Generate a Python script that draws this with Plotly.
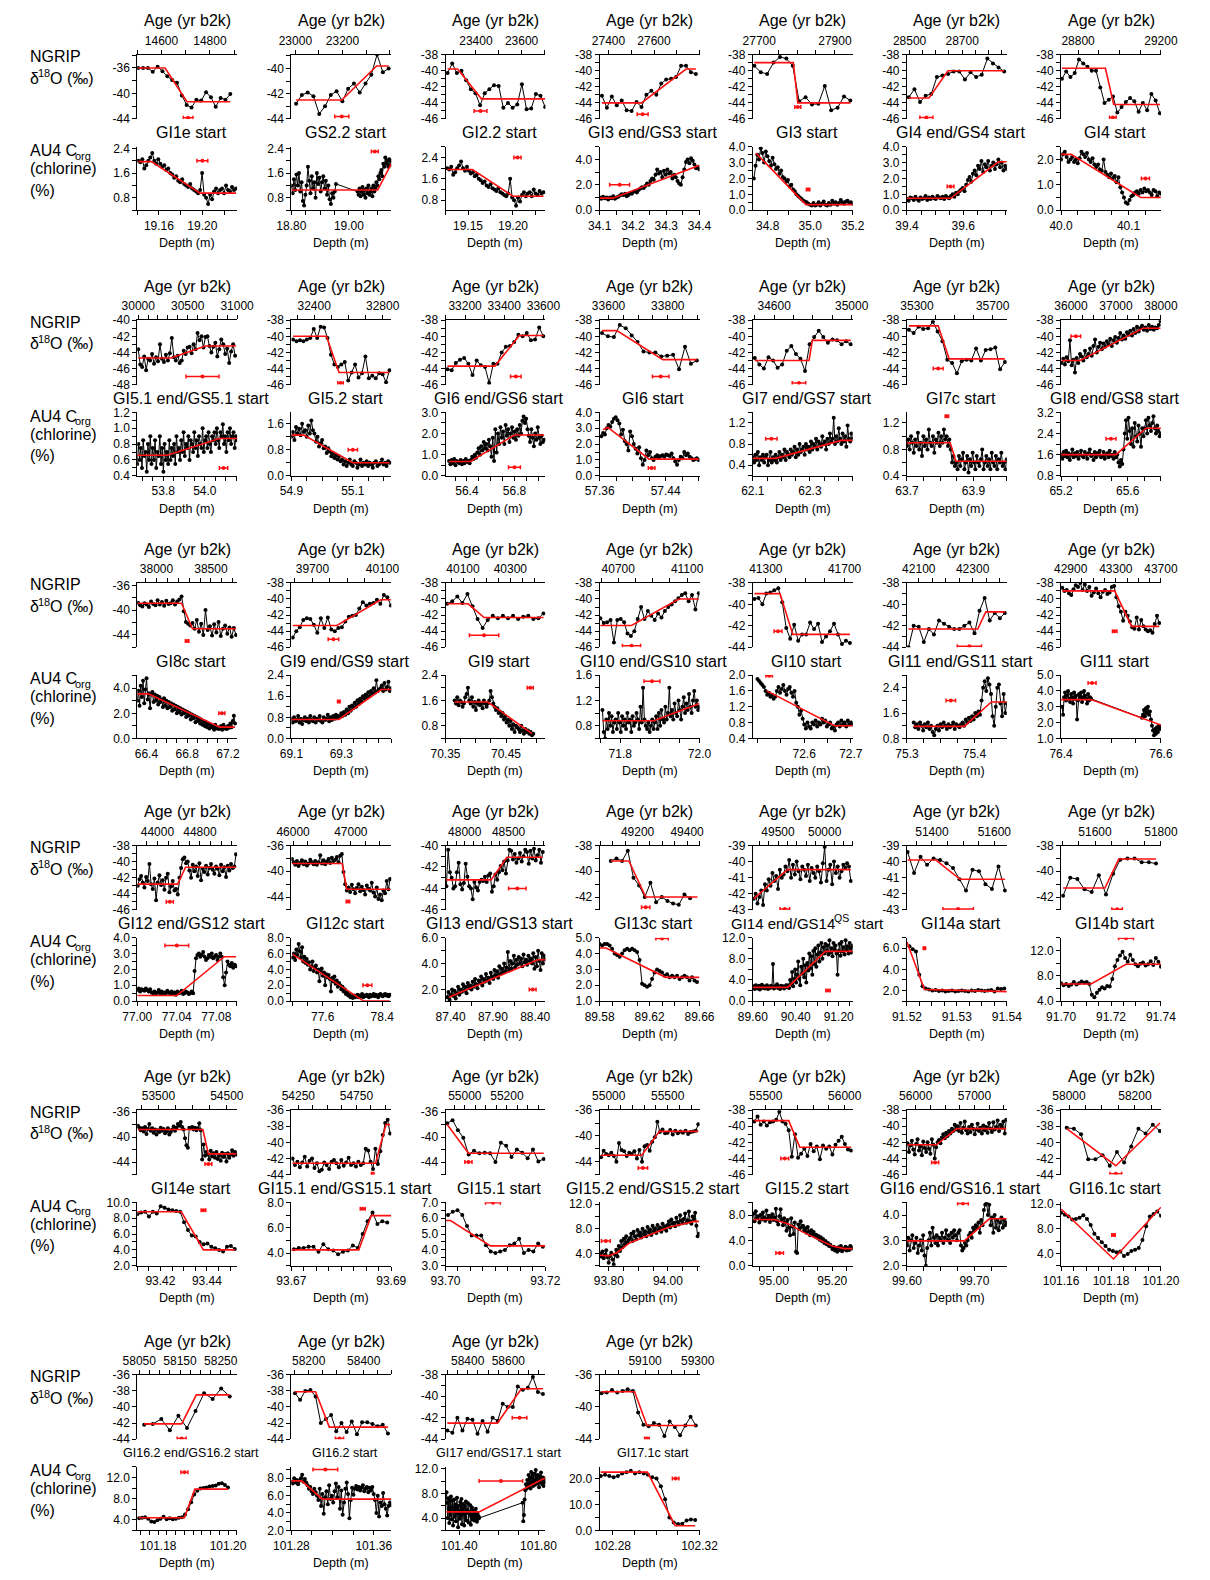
import numpy as np
import plotly.graph_objects as go

# ---------------------------------------------------------------------------
# NGRIP d18O: first/last sample age of the evenly spaced record + values.
# AU4 Corg: depth span of each continuous scan segment + values per segment.
# *_fit: ramp fit break points [[x...], [y...]].
# *_err: transition uncertainty bar [centre, half width, plotted level].
# ---------------------------------------------------------------------------

# GI1e start
p01_age = [14504, 14884]
p01_d18o = [-36.0, -36.0, -36.0, -36.6, -35.8, -36.5, -37.3, -37.9, -38.3, -40.3, -41.8, -42.2, -41.0, -41.1, -39.8,
            -40.6, -42.1, -40.7, -41.0, -40.1]
p01_d18o_fit = [[14504, 14615, 14705, 14884], [-36.0, -36.0, -41.3, -41.3]]
p01_d18o_err = [14710, 20, -43.8]
p01_depth = [[19.141, 19.231]]
p01_corg = [[2.0, 1.95, 2.05, 1.75, 1.85, 2.0, 2.1, 2.25, 2.0, 1.9, 2.05, 1.9, 1.8, 1.85, 1.7, 1.75, 1.6, 1.55, 1.45,
             1.5, 1.35, 1.3, 1.4, 1.25, 1.2, 1.15, 1.25, 1.1, 1.05, 1.0, 0.95, 1.05, 1.6, 0.9, 0.8, 0.6, 0.9, 0.75, 1.0,
             1.1, 0.95, 1.05, 1.1, 0.95, 1.2, 1.05, 1.0, 1.15, 1.05, 1.1]]
p01_corg_fit = [[19.141, 19.153, 19.198, 19.231], [1.97, 1.97, 0.95, 0.95]]
p01_corg_err = [19.20, 0.005, 2.0]

# GS2.2 start
p02_age = [23003, 23396]
p02_d18o = [-42.8, -42.1, -41.9, -42.2, -43.6, -43.0, -42.1, -41.8, -42.6, -41.6, -41.2, -41.9, -41.2, -40.5, -38.9,
            -40.3, -40.0]
p02_d18o_fit = [[23003, 23197, 23345, 23396], [-42.5, -42.5, -39.8, -39.8]]
p02_d18o_err = [23197, 30, -43.8]
p02_depth = [[18.80, 18.955], [19.03, 19.147]]
p02_corg = [[1.2, 0.95, 1.4, 1.05, 1.55, 1.2, 1.6, 1.0, 1.3, 0.7, 0.55, 0.9, 1.2, 1.8, 1.35, 0.95, 1.5, 1.1, 1.3, 0.8,
             1.6, 1.25, 1.45, 1.0, 1.3, 1.5, 1.1, 1.35, 0.9, 1.2, 0.75, 0.6, 0.95, 0.8, 1.0, 1.25],
            [1.0, 0.9, 1.1, 0.85, 1.0, 1.15, 0.9, 1.05, 0.8, 1.1, 0.95, 1.2, 0.9, 1.0, 1.1, 0.85, 1.2, 1.0, 1.1, 1.3,
             1.2, 1.5, 1.4, 1.6, 1.7, 1.5, 1.9, 1.8, 2.1, 1.9, 2.0, 1.8, 2.05, 1.85, 2.0]]
p02_corg_fit = [[18.80, 19.10, 19.147], [1.05, 1.05, 1.9]]
p02_corg_err = [19.09, 0.012, 2.3]

# GI2.2 start
p03_age = [23276, 23703]
p03_d18o = [-40.3, -39.1, -40.3, -40.0, -41.2, -42.3, -42.8, -44.3, -42.8, -42.3, -41.8, -41.9, -44.6, -44.0, -44.6,
            -44.2, -41.7, -44.8, -44.7, -42.9, -43.1, -44.5]
p03_d18o_fit = [[23276, 23320, 23424, 23703], [-39.8, -39.8, -43.5, -43.5]]
p03_d18o_err = [23420, 28, -45.0]
p03_depth = [[19.127, 19.234]]
p03_corg = [[2.0, 1.95, 2.05, 1.75, 1.85, 2.0, 2.1, 2.25, 2.0, 1.9, 2.05, 1.9, 1.8, 1.85, 1.7, 1.75, 1.6, 1.55, 1.45,
             1.5, 1.35, 1.3, 1.4, 1.25, 1.2, 1.15, 1.25, 1.1, 1.05, 1.0, 0.95, 1.05, 1.6, 0.9, 0.8, 0.6, 0.9, 0.75, 1.0,
             1.1, 0.95, 1.05, 1.1, 0.95, 1.2, 1.05, 1.0, 1.15, 1.05, 1.1]]
p03_corg_fit = [[19.127, 19.155, 19.20, 19.234], [1.95, 1.95, 0.95, 0.95]]
p03_corg_err = [19.205, 0.004, 2.4]

# GI3 end/GS3 start
p04_age = [27371, 27784]
p04_d18o = [-43.1, -44.6, -43.2, -44.3, -43.7, -44.9, -45.0, -43.9, -44.5, -43.0, -42.5, -43.0, -41.6, -41.1, -41.0,
            -40.8, -39.4, -39.4, -40.2, -40.4]
p04_d18o_fit = [[27371, 27545, 27741, 27784], [-44.0, -44.0, -39.8, -39.8]]
p04_d18o_err = [27550, 24, -45.4]
p04_depth = [[34.1, 34.4]]
p04_corg = [[1.0, 0.9, 1.05, 0.95, 1.0, 0.85, 1.0, 0.95, 1.1, 0.9, 1.0, 1.05, 1.15, 1.25, 1.2, 1.3, 1.1, 1.2, 1.35, 1.3,
             1.45, 1.5, 1.4, 1.6, 1.7, 1.8, 1.75, 1.9, 2.1, 2.0, 2.3, 2.5, 2.4, 2.8, 3.2, 2.9, 3.0, 2.6, 3.1, 2.8, 3.2,
             2.9, 3.0, 2.5, 2.8, 2.6, 2.3, 2.1, 2.0, 2.6, 3.2, 3.8, 4.0, 3.7, 4.1, 3.9, 3.6, 3.3, 3.4, 3.2]]
p04_corg_fit = [[34.1, 34.14, 34.4], [0.95, 0.95, 3.55]]
p04_corg_err = [34.16, 0.03, 2.0]

# GI3 start
p05_age = [27687, 27941]
p05_d18o = [-39.4, -40.2, -40.4, -39.0, -38.3, -38.5, -39.4, -43.8, -43.3, -44.2, -44.1, -41.9, -44.9, -44.6, -43.2,
            -43.7]
p05_d18o_fit = [[27687, 27790, 27802, 27941], [-39.0, -39.0, -44.0, -44.0]]
p05_d18o_err = [27802, 8, -44.5]
p05_depth = [[34.735, 35.2]]
p05_corg = [[2.0, 2.8, 3.5, 3.2, 3.9, 3.6, 3.0, 3.7, 3.4, 3.1, 2.8, 3.3, 2.9, 2.6, 2.7, 2.3, 2.5, 2.1, 2.0, 1.8, 1.9,
             1.5, 1.6, 1.3, 1.2, 1.0, 0.9, 0.8, 0.7, 0.6, 0.55, 0.5, 0.4, 0.35, 0.3, 0.45, 0.3, 0.35, 0.5, 0.3, 0.4,
             0.55, 0.35, 0.3, 0.45, 0.35, 0.6, 0.4, 0.5, 0.35, 0.45, 0.65, 0.5, 0.4, 0.55, 0.6, 0.45, 0.5, 0.4]]
p05_corg_fit = [[34.745, 34.98, 35.2], [3.6, 0.35, 0.35]]
p05_corg_err = [34.99, 0.008, 1.3]

# GI4 end/GS4 start
p06_age = [28497, 28860]
p06_d18o = [-43.3, -42.3, -43.9, -43.1, -42.9, -40.8, -40.6, -40.4, -40.1, -40.1, -41.1, -40.2, -40.8, -40.5, -38.5,
            -39.1, -39.6, -40.1]
p06_d18o_fit = [[28497, 28574, 28646, 28860], [-43.4, -43.4, -40.0, -40.0]]
p06_d18o_err = [28564, 25, -45.8]
p06_depth = [[39.4, 39.755]]
p06_corg = [[0.7, 0.6, 0.8, 0.75, 0.65, 0.85, 0.7, 0.6, 0.8, 0.7, 0.75, 0.9, 0.65, 0.8, 0.7, 0.85, 0.75, 0.7, 0.9, 0.8,
             0.75, 0.85, 0.7, 0.9, 0.8, 0.75, 0.9, 1.0, 0.85, 1.1, 1.0, 1.2, 1.3, 1.4, 1.2, 1.6, 1.9, 2.1, 1.8, 2.3, 2.5,
             2.2, 2.8, 2.6, 3.1, 2.4, 2.9, 2.7, 3.1, 2.5, 2.8, 3.0, 2.6, 2.9, 3.2, 2.7, 3.0, 2.5, 2.8, 2.6]]
p06_corg_fit = [[39.4, 39.555, 39.725, 39.755], [0.75, 0.75, 3.05, 3.05]]
p06_corg_err = [39.555, 0.012, 1.5]

# GI4 start
p07_age = [28722, 29195]
p07_d18o = [-41.0, -40.1, -40.8, -40.3, -38.6, -39.1, -39.5, -40.0, -40.0, -42.1, -44.0, -43.6, -43.2, -45.2, -44.5,
            -43.9, -43.4, -43.8, -45.1, -44.0, -44.9, -42.9, -43.7, -45.3]
p07_d18o_fit = [[28722, 28932, 28972, 29195], [-39.7, -39.7, -44.2, -44.2]]
p07_d18o_err = [28968, 16, -45.8]
p07_depth = [[40.0, 40.148]]
p07_corg = [[2.0, 2.2, 2.3, 2.1, 1.9, 2.0, 2.1, 1.9, 2.0, 1.85, 2.05, 2.3, 2.2, 2.1, 2.25, 2.0, 1.9, 2.05, 1.8, 1.7,
             1.8, 1.6, 1.55, 2.0, 1.5, 1.4, 1.3, 1.45, 1.25, 1.35, 1.1, 1.3, 0.9, 0.7, 0.5, 0.3, 0.25, 0.4, 0.55, 0.6,
             0.7, 0.75, 0.65, 0.8, 0.7, 0.85, 0.75, 0.8, 0.7, 0.6, 0.8, 0.75, 0.55, 0.7, 0.65]]
p07_corg_fit = [[40.0, 40.015, 40.118, 40.148], [2.2, 2.2, 0.5, 0.5]]
p07_corg_err = [40.125, 0.006, 1.25]

# GI5.1 end/GS5.1 start
p08_age = [30000, 30980]
p08_d18o = [-43.6, -45.5, -45.8, -44.5, -46.2, -44.8, -45.0, -44.2, -45.4, -44.6, -45.1, -43.0, -44.8, -45.2, -44.3,
            -45.0, -44.1, -42.2, -44.6, -45.0, -44.4, -45.3, -45.0, -43.8, -44.2, -43.4, -43.3, -44.1, -43.0, -43.6,
            -41.6, -42.5, -42.0, -43.4, -42.1, -42.0, -43.2, -44.0, -43.3, -42.8, -44.5, -43.6, -42.4, -43.0, -44.2,
            -43.5, -45.3, -43.9, -43.0, -44.4]
p08_d18o_fit = [[30000, 30330, 30680, 30990], [-44.7, -44.7, -43.2, -43.2]]
p08_d18o_err = [30650, 167, -47.0]
p08_depth = [[53.675, 54.155]]
p08_corg = [[0.55, 0.8, 0.6, 0.75, 0.5, 0.85, 0.65, 0.7, 0.45, 0.8, 0.6, 0.9, 0.55, 0.75, 0.6, 0.85, 0.5, 0.7, 0.65,
             0.9, 0.55, 0.75, 0.45, 0.8, 0.6, 0.7, 0.55, 0.85, 0.6, 0.75, 0.65, 0.8, 0.55, 0.9, 0.7, 0.75, 0.6, 0.85,
             0.7, 0.95, 0.65, 0.8, 0.75, 0.9, 0.6, 0.85, 0.8, 0.7, 0.95, 0.75, 0.85, 0.65, 0.9, 0.8, 0.75, 1.0, 0.7,
             0.85, 0.9, 0.75, 0.95, 0.8, 0.7, 0.9, 0.85, 0.95, 0.8, 1.0, 0.85, 0.75, 0.95, 0.9, 1.05, 0.8, 0.9, 0.7,
             0.95, 0.85, 1.0, 0.8, 0.9, 0.95, 0.75, 0.9, 0.85]]
p08_corg_fit = [[53.675, 53.82, 54.07, 54.155], [0.66, 0.66, 0.87, 0.87]]
p08_corg_err = [54.09, 0.02, 0.5]

# GI5.2 start
p09_age = [32277, 32840]
p09_d18o = [-40.4, -40.6, -40.5, -40.6, -40.4, -40.2, -39.1, -40.2, -38.8, -38.9, -40.2, -42.3, -43.5, -43.8, -43.5,
            -43.2, -45.5, -44.5, -43.5, -45.1, -44.6, -42.5, -45.2, -44.9, -45.2, -44.6, -44.7, -45.7, -44.2]
p09_d18o_fit = [[32277, 32472, 32545, 32840], [-40.0, -40.0, -44.5, -44.5]]
p09_d18o_err = [32554, 16, -45.8]
p09_depth = [[54.9, 55.22]]
p09_corg = [[1.2, 1.35, 1.1, 1.5, 1.3, 1.45, 1.25, 1.6, 1.35, 1.4, 1.2, 1.55, 1.3, 1.7, 1.4, 1.3, 1.05, 1.2, 0.9, 1.0,
             1.1, 0.85, 0.9, 0.7, 0.85, 0.75, 0.6, 0.7, 0.55, 0.65, 0.5, 0.6, 0.45, 0.5, 0.35, 0.45, 0.3, 0.4, 0.5,
             0.35, 0.3, 0.45, 0.4, 0.25, 0.35, 0.5, 0.3, 0.4, 0.35, 0.45, 0.3, 0.4, 0.35, 0.25, 0.4, 0.45, 0.3, 0.35,
             0.4, 0.5, 0.35, 0.4, 0.3, 0.45, 0.4]]
p09_corg_fit = [[54.9, 54.94, 55.1, 55.22], [1.25, 1.25, 0.4, 0.4]]
p09_corg_err = [55.10, 0.015, 0.8]

# GI6 end/GS6 start
p10_age = [33110, 33600]
p10_d18o = [-44.1, -44.2, -43.3, -42.9, -42.7, -43.4, -44.8, -43.0, -43.6, -43.8, -45.8, -43.4, -43.4, -42.0, -41.3,
            -41.2, -40.7, -39.8, -40.0, -39.6, -40.5, -40.4, -38.9, -40.0]
p10_d18o_fit = [[33110, 33352, 33477, 33600], [-43.7, -43.7, -39.9, -39.9]]
p10_d18o_err = [33459, 27, -45.0]
p10_depth = [[56.25, 57.05]]
p10_corg = [[0.7, 0.55, 0.75, 0.6, 0.8, 0.5, 0.7, 0.65, 0.6, 0.75, 0.55, 0.7, 0.6, 0.8, 0.65, 0.7, 0.6, 0.75, 0.9, 0.8,
             1.0, 0.85, 1.1, 1.3, 1.0, 1.4, 1.2, 1.6, 1.3, 1.5, 1.2, 1.7, 1.4, 0.9, 1.8, 0.7, 2.2, 1.1, 2.0, 1.5, 2.3,
             1.8, 2.1, 1.5, 2.4, 1.9, 2.2, 1.6, 2.0, 2.3, 1.8, 2.1, 1.7, 2.2, 1.9, 2.4, 2.0, 2.6, 2.8, 2.5, 2.7, 2.2,
             1.9, 1.6, 2.2, 1.8, 1.4, 2.0, 1.7, 2.3, 1.8, 1.5, 1.9, 1.6, 1.7]]
p10_corg_fit = [[56.25, 56.43, 56.8, 57.05], [0.68, 0.68, 1.93, 1.93]]
p10_corg_err = [56.8, 0.05, 0.4]

# GI6 start
p11_age = [33578, 33898]
p11_d18o = [-39.6, -40.0, -40.1, -38.6, -39.0, -39.9, -40.7, -41.9, -42.0, -42.0, -42.5, -42.4, -42.3, -44.1, -41.3,
            -43.4, -43.0]
p11_d18o_fit = [[33578, 33628, 33783, 33898], [-39.3, -39.3, -42.9, -42.9]]
p11_d18o_err = [33776, 28, -45.0]
p11_depth = [[57.362, 57.48]]
p11_corg = [[2.5, 2.7, 2.6, 3.0, 3.2, 3.1, 3.4, 3.6, 3.7, 3.5, 3.3, 2.6, 2.9, 2.2, 2.0, 1.6, 2.8, 2.5, 2.0, 1.7, 1.4,
             1.8, 1.1, 0.7, 1.0, 1.6, 1.3, 1.5, 1.1, 1.0, 1.2, 1.3, 1.15, 1.25, 1.3, 1.2, 1.35, 1.3, 1.25, 1.4, 1.1,
             0.9, 0.7, 1.0, 1.2, 1.1, 1.5, 1.3, 1.4, 1.2, 1.1, 1.0, 1.05, 1.1, 1.0]]
p11_corg_fit = [[57.364, 57.37, 57.42, 57.48], [2.9, 3.05, 1.05, 1.05]]
p11_corg_err = [57.423, 0.004, 0.5]

# GI7 end/GS7 start
p12_age = [34500, 34995]
p12_d18o = [-42.7, -43.5, -44.0, -42.6, -43.0, -43.9, -43.5, -41.8, -41.2, -42.2, -42.8, -44.3, -41.0, -40.1, -39.3,
            -40.1, -40.8, -40.4, -40.5, -41.0, -40.6, -41.0]
p12_d18o_fit = [[34500, 34780, 34797, 34995], [-43.0, -43.0, -40.5, -40.5]]
p12_d18o_err = [34728, 35, -45.8]
p12_depth = [[62.1, 62.45]]
p12_corg = [[0.55, 0.45, 0.6, 0.5, 0.65, 0.4, 0.55, 0.5, 0.6, 0.45, 0.55, 0.6, 0.4, 0.5, 0.65, 0.45, 0.55, 0.5, 0.6,
             0.45, 0.55, 0.65, 0.5, 0.6, 0.55, 0.7, 0.5, 0.65, 0.6, 0.55, 0.7, 0.6, 0.65, 0.75, 0.55, 0.7, 0.6, 0.8,
             0.65, 0.7, 0.75, 0.6, 0.8, 0.7, 0.75, 0.65, 0.85, 0.7, 0.8, 0.75, 0.9, 0.7, 0.85, 0.8, 0.75, 0.95, 0.8,
             0.85, 0.7, 0.9, 0.8, 1.0, 0.85, 0.9, 1.3, 0.8, 0.95, 0.85, 1.1, 0.9, 0.8, 1.0, 0.85, 0.95, 0.75, 1.15,
             0.9, 0.85, 1.0, 0.9]]
p12_corg_fit = [[62.1, 62.18, 62.41, 62.45], [0.53, 0.53, 0.87, 0.87]]
p12_corg_err = [62.165, 0.02, 0.9]

# GI7c start
p13_age = [35257, 35765]
p13_d18o = [-39.2, -39.6, -38.8, -39.1, -39.0, -38.2, -39.4, -40.6, -42.9, -43.3, -44.6, -43.1, -42.9, -43.0, -41.5,
            -43.0, -41.7, -41.6, -41.4, -44.1, -43.2]
p13_d18o_fit = [[35257, 35412, 35470, 35765], [-38.7, -38.7, -42.8, -42.8]]
p13_d18o_err = [35412, 26, -44.0]
p13_depth = [[63.7, 64.0]]
p13_corg = [[0.85, 0.95, 0.8, 1.0, 0.9, 0.75, 0.95, 0.85, 1.05, 0.8, 0.9, 0.7, 1.0, 0.85, 0.95, 0.8, 1.1, 0.9, 0.85,
             1.0, 0.75, 0.95, 0.9, 1.05, 0.85, 1.0, 0.9, 1.1, 0.95, 1.0, 0.85, 0.95, 0.8, 0.6, 0.7, 0.55, 0.6, 0.5, 0.7,
             0.55, 0.65, 0.75, 0.5, 0.6, 0.7, 0.45, 0.65, 0.55, 0.75, 0.6, 0.5, 0.7, 0.6, 0.55, 0.65, 0.8, 0.5, 0.6,
             0.7, 0.55, 0.65, 0.5, 0.75, 0.6, 0.55, 0.7, 0.5, 0.65, 0.6, 0.75, 0.55, 0.6, 0.5, 0.65]]
p13_corg_fit = [[63.7, 63.83, 63.847, 64.0], [0.9, 0.9, 0.62, 0.62]]
p13_corg_err = [63.82, 0.005, 1.3]

# GI8 end/GS8 start
p14_age = [35790, 37990]
p14_d18o = [-43.3, -42.8, -43.5, -42.6, -43.1, -40.5, -43.6, -42.9, -44.5, -42.7, -43.3, -42.2, -42.5, -43.0, -41.8,
            -42.6, -42.2, -41.5, -42.4, -41.2, -40.4, -42.0, -41.3, -40.8, -41.6, -40.9, -41.3, -40.6, -41.0, -40.3,
            -41.2, -40.5, -40.1, -40.8, -40.2, -39.6, -40.4, -39.9, -40.3, -39.5, -39.8, -39.3, -39.9, -39.1, -39.6,
            -38.8, -39.4, -39.0, -38.7, -39.2, -38.9, -39.3, -38.6, -39.1, -38.8, -39.2, -38.9, -39.0, -38.6, -38.1]
p14_d18o_fit = [[35790, 36200, 37600, 37990], [-43.0, -43.0, -39.0, -39.0]]
p14_d18o_err = [36107, 107, -40.0]
p14_depth = [[65.2, 65.8]]
p14_corg = [[1.6, 1.45, 1.7, 1.55, 1.75, 1.5, 1.65, 1.4, 1.6, 1.8, 1.5, 1.65, 1.55, 1.7, 1.45, 1.6, 1.75, 1.55, 1.5,
             1.7, 1.6, 1.45, 1.65, 1.8, 1.55, 1.6, 1.4, 1.7, 1.5, 1.65, 1.6, 1.75, 1.5, 1.55, 1.7, 1.45, 1.6, 1.65, 1.5,
             1.75, 1.55, 1.6, 1.45, 1.7, 1.5, 1.6, 1.3, 1.15, 1.4, 1.25, 1.8, 2.4, 2.9, 2.2, 3.0, 2.5, 2.0, 2.6, 1.9,
             2.8, 2.3, 2.1, 2.7, 2.4, 1.9, 2.6, 2.3, 2.6, 2.9, 2.4, 3.0, 2.7, 2.5, 2.8, 3.05, 2.6, 2.4, 2.7, 2.5, 2.3,
             2.4]]
p14_corg_fit = [[65.2, 65.53, 65.71, 65.8], [1.6, 1.6, 2.6, 2.6]]
p14_corg_err = [65.5, 0.03, 2.2]

# GI8c start
p15_age = [37830, 38730]
p15_d18o = [-38.8, -39.2, -39.4, -38.9, -39.1, -39.5, -38.6, -39.0, -39.2, -38.4, -39.1, -38.7, -39.3, -38.5, -39.0,
            -38.9, -38.4, -39.1, -38.6, -38.3, -37.8, -40.2, -41.9, -42.2, -42.5, -42.1, -43.0, -41.6, -43.5, -42.2,
            -44.0, -40.0, -43.2, -42.6, -44.1, -42.3, -43.6, -41.9, -44.2, -43.0, -42.5, -43.8, -42.8, -44.3, -42.9,
            -44.0]
p15_d18o_fit = [[37830, 38230, 38330, 38730], [-38.9, -38.9, -43.0, -43.0]]
p15_d18o_err = [38281, 16, -45.0]
p15_depth = [[66.31, 67.27]]
p15_corg = [[3.0, 3.8, 2.6, 4.2, 3.3, 4.6, 2.8, 3.9, 4.8, 3.1, 3.6, 2.4, 3.5, 3.7, 2.9, 3.5, 3.0, 3.4, 2.7, 3.3, 2.9,
             3.1, 2.5, 3.2, 2.6, 3.0, 2.4, 2.9, 2.5, 2.8, 2.2, 2.7, 2.3, 2.6, 2.0, 2.5, 2.1, 2.4, 1.9, 2.3, 2.0, 2.2,
             1.7, 2.1, 1.8, 2.0, 1.5, 1.9, 1.6, 1.8, 1.3, 1.7, 1.4, 1.6, 1.2, 1.5, 1.1, 1.4, 1.0, 1.3, 0.9, 1.2, 0.8,
             1.1, 0.9, 1.0, 0.7, 1.1, 0.8, 0.9, 0.75, 0.8, 1.0, 0.7, 1.1, 0.8, 0.9, 0.75, 1.0, 0.85, 1.2, 0.9, 1.4,
             1.8, 1.2]]
p15_corg_fit = [[66.31, 66.42, 67.12, 67.27], [3.55, 3.55, 0.9, 0.9]]
p15_corg_err = [67.14, 0.03, 2.0]

# GI9 end/GS9 start
p16_age = [39588, 40148]
p16_d18o = [-44.8, -44.0, -43.5, -42.6, -42.4, -42.5, -43.2, -44.2, -42.4, -43.6, -42.3, -43.8, -44.0, -43.6, -43.5,
            -42.8, -42.2, -42.1, -42.0, -41.2, -40.4, -40.8, -40.6, -40.5, -40.1, -40.6, -39.5, -39.8, -40.8]
p16_d18o_fit = [[39588, 39840, 40090, 40148], [-43.3, -43.3, -40.1, -40.1]]
p16_d18o_err = [39820, 30, -45.0]
p16_depth = [[69.1, 69.5]]
p16_corg = [[0.75, 0.6, 0.8, 0.65, 0.7, 0.85, 0.6, 0.75, 0.55, 0.7, 0.8, 0.65, 0.75, 0.6, 0.85, 0.7, 0.65, 0.8, 0.6,
             0.75, 0.7, 0.85, 0.65, 0.6, 0.8, 0.7, 0.75, 0.9, 0.65, 0.8, 0.7, 0.85, 0.75, 0.9, 0.8, 0.85, 0.8, 0.95,
             0.85, 1.0, 0.9, 1.1, 0.95, 1.2, 1.05, 1.25, 1.15, 1.35, 1.2, 1.45, 1.3, 1.5, 1.4, 1.6, 1.5, 1.65, 1.55,
             1.75, 1.6, 1.8, 1.7, 1.9, 1.75, 2.2, 1.8, 1.85, 1.9, 2.0, 1.8, 2.1, 1.85, 1.95, 2.15, 1.8, 1.9]]
p16_corg_fit = [[69.1, 69.29, 69.46, 69.5], [0.72, 0.72, 1.85, 1.85]]
p16_corg_err = [69.29, 0.005, 1.4]

# GI9 start
p17_age = [40033, 40440]
p17_d18o = [-40.6, -40.3, -39.7, -40.5, -39.4, -40.9, -42.5, -43.6, -42.6, -42.1, -42.4, -42.1, -42.4, -42.1, -42.5,
            -42.2, -42.1, -42.5, -42.4, -41.8]
p17_d18o_fit = [[40033, 40122, 40189, 40440], [-40.6, -40.6, -42.3, -42.3]]
p17_d18o_err = [40189, 62, -44.5]
p17_depth = [[70.365, 70.495]]
p17_corg = [[1.6, 1.5, 1.7, 1.45, 1.6, 1.55, 1.4, 1.5, 1.7, 1.8, 2.0, 1.6, 1.5, 1.7, 1.4, 1.55, 1.3, 1.5, 1.6, 1.45,
             1.5, 1.35, 1.6, 1.5, 1.4, 1.5, 1.6, 1.9, 1.7, 1.5, 1.4, 1.3, 1.35, 1.2, 1.25, 1.1, 1.2, 1.0, 1.1, 0.9, 1.0,
             0.8, 0.95, 0.7, 0.85, 0.6, 0.8, 0.75, 0.7, 0.6, 0.8, 0.65, 0.55, 0.7, 0.6, 0.65, 0.55, 0.6, 0.5, 0.55]]
p17_corg_fit = [[70.365, 70.42, 70.493], [1.55, 1.55, 0.55]]
p17_corg_err = [70.49, 0.005, 2.0]

# GI10 end/GS10 start
p18_age = [40596, 41168]
p18_d18o = [-42.4, -43.0, -42.9, -42.6, -45.4, -42.6, -42.5, -42.9, -44.3, -44.6, -44.0, -42.5, -41.0, -42.5, -41.5,
            -42.1, -42.6, -41.8, -42.3, -41.5, -41.0, -40.7, -40.3, -39.9, -39.5, -39.3, -40.3, -39.5, -41.3, -39.3]
p18_d18o_fit = [[40596, 40777, 41052, 41168], [-43.3, -43.3, -40.0, -40.0]]
p18_d18o_err = [40777, 53, -45.8]
p18_depth = [[71.755, 72.0]]
p18_corg = [[1.05, 0.7, 0.6, 0.9, 0.75, 1.0, 0.8, 0.95, 0.7, 0.85, 0.9, 0.75, 1.0, 0.85, 0.7, 0.95, 0.8, 0.9, 0.75,
             1.0, 0.85, 0.9, 0.7, 0.95, 0.8, 0.85, 1.0, 0.9, 0.75, 1.1, 0.85, 1.4, 0.9, 0.8, 0.75, 0.85, 0.7, 0.8, 0.9,
             0.75, 0.85, 0.95, 0.75, 1.0, 0.8, 1.05, 0.9, 0.85, 1.1, 0.9, 1.0, 1.4, 0.95, 1.05, 0.9, 1.15, 1.0, 0.95,
             1.2, 1.05, 0.9, 1.1, 1.25, 1.0, 1.15, 1.05, 1.3, 1.1, 1.0, 1.2, 1.35, 1.1, 1.2, 1.05, 1.1]]
p18_corg_fit = [[71.755, 71.885, 72.0], [0.88, 0.88, 1.15]]
p18_corg_err = [71.88, 0.02, 1.5]

# GI10 start
p19_age = [41242, 41727]
p19_d18o = [-39.5, -39.4, -40.0, -39.0, -38.9, -38.7, -38.5, -39.8, -42.2, -43.2, -41.9, -43.4, -42.8, -42.8, -41.7,
            -42.3, -41.8, -43.5, -43.0, -42.5, -41.8, -42.8, -43.7, -43.4, -43.6]
p19_d18o_fit = [[41242, 41372, 41437, 41727], [-39.0, -39.0, -42.8, -42.8]]
p19_d18o_err = [41362, 20, -42.5]
p19_depth = [[72.5, 72.704]]
p19_corg = [[1.9, 1.85, 1.8, 1.75, 1.7, 1.6, 1.5, 1.55, 1.45, 1.5, 1.4, 1.45, 1.6, 1.7, 1.55, 1.65, 1.75, 1.6, 1.5,
             1.65, 1.7, 1.55, 1.45, 1.6, 1.3, 1.2, 1.0, 1.1, 0.9, 0.75, 0.65, 0.8, 0.7, 0.65, 0.8, 0.75, 0.85, 0.7, 0.8,
             0.75, 0.9, 0.8, 0.85, 0.7, 0.75, 0.8, 0.65, 0.7, 0.6, 0.75, 0.8, 0.7, 0.85, 0.75, 0.8, 0.7, 0.85, 0.75,
             0.8, 0.75]]
p19_corg_fit = [[72.52, 72.665, 72.704], [1.6, 0.72, 0.72]]
p19_corg_err = [72.525, 0.007, 1.98]

# GI11 end/GS11 start
p20_age = [42062, 42420]
p20_d18o = [-44.0, -42.0, -42.1, -43.5, -42.3, -42.8, -41.5, -41.8, -42.1, -42.3, -42.3, -42.0, -41.7, -42.7, -40.6,
            -39.4, -41.5, -40.8, -41.3, -40.8]
p20_d18o_fit = [[42062, 42319, 42349, 42420], [-42.3, -42.3, -40.7, -40.7]]
p20_d18o_err = [42288, 45, -43.9]
p20_depth = [[75.31, 75.448]]
p20_corg = [[1.3, 1.15, 1.25, 1.1, 1.3, 1.2, 1.05, 1.25, 1.15, 1.3, 1.1, 1.2, 1.0, 0.9, 1.1, 1.2, 1.05, 1.25, 1.15,
             1.3, 1.2, 1.1, 1.25, 1.15, 1.2, 1.3, 1.1, 1.25, 1.2, 1.15, 1.25, 1.3, 1.2, 1.4, 1.3, 1.45, 1.35, 1.5, 1.4,
             1.6, 1.5, 1.65, 1.55, 2.0, 2.4, 2.6, 2.3, 2.7, 2.5, 2.2, 1.5, 1.2, 1.8, 2.4, 2.5, 1.9, 1.5, 2.2, 1.6,
             1.9]]
p20_corg_fit = [[75.31, 75.385, 75.425, 75.448], [1.18, 1.18, 1.95, 1.95]]
p20_corg_err = [75.365, 0.007, 2.0]

# GI11 start
p21_age = [42825, 43685]
p21_d18o = [-38.6, -39.0, -38.9, -39.3, -39.5, -38.8, -38.3, -38.5, -38.0, -38.9, -38.2, -39.0, -38.5, -39.6, -39.2,
            -38.7, -39.3, -39.8, -39.1, -38.9, -39.4, -39.2, -38.5, -38.4, -39.8, -40.9, -41.6, -42.7, -41.6, -42.1,
            -42.8, -43.5, -43.7, -42.3, -43.8, -42.6, -43.4, -43.8, -44.0, -43.9, -44.2, -43.1, -42.1, -43.0]
p21_d18o_fit = [[42825, 43290, 43440, 43685], [-39.0, -39.0, -43.4, -43.4]]
p21_d18o_err = [43290, 20, -44.0]
p21_depth = [[76.402, 76.46], [76.562, 76.6]]
p21_corg = [[3.0, 2.5, 3.6, 3.9, 3.4, 3.7, 4.0, 3.5, 3.3, 3.8, 3.6, 3.2, 3.9, 3.5, 3.7, 2.2, 3.4, 3.8, 3.6, 3.9, 3.3,
             3.6, 4.0, 3.7, 3.5, 3.2, 3.8, 3.4, 3.6, 3.5],
            [2.3, 2.5, 2.8, 2.4, 2.9, 2.6, 3.0, 2.5, 2.7, 2.2, 1.8, 1.5, 1.2, 1.6, 1.3, 1.7, 1.4, 1.8, 1.6, 1.7]]
p21_corg_fit = [[76.4, 76.46, 76.6], [3.45, 3.45, 1.85]]
p21_corg_err = [76.462, 0.008, 4.5]

# GI12 end/GS12 start
p22_age = [43630, 45480]
p22_d18o = [-43.0, -42.2, -41.8, -42.6, -43.2, -41.9, -42.4, -40.3, -42.8, -43.4, -42.1, -44.8, -42.6, -41.7, -42.9,
            -42.3, -43.5, -42.0, -41.5, -43.8, -43.1, -42.4, -43.6, -43.4, -44.1, -42.0, -40.8, -39.7, -39.5, -40.2,
            -40.0, -41.1, -42.0, -40.4, -41.2, -40.6, -41.8, -40.2, -42.3, -40.9, -41.3, -40.5, -41.6, -40.8, -40.3,
            -41.0, -41.5, -40.6, -40.9, -41.7, -40.4, -41.2, -40.7, -41.9, -40.5, -41.1, -40.3, -40.8, -40.6, -39.1]
p22_d18o_fit = [[43630, 44380, 44530, 45480], [-42.8, -42.8, -40.7, -40.7]]
p22_d18o_err = [44233, 67, -45.0]
p22_depth = [[77.0, 77.1]]
p22_corg = [[0.7, 0.8, 0.6, 0.75, 0.7, 0.65, 0.8, 0.7, 0.6, 0.75, 0.55, 0.5, 0.6, 0.45, 0.55, 0.7, 0.5, 0.6, 0.45,
             0.55, 0.5, 0.65, 0.55, 0.45, 0.6, 0.5, 0.55, 0.4, 0.6, 0.5, 0.55, 0.65, 0.45, 0.5, 0.6, 0.55, 0.45, 0.5,
             0.6, 0.5, 1.9, 2.7, 2.9, 3.0, 2.8, 2.9, 3.1, 2.8, 2.6, 2.7, 2.9, 2.8, 3.0, 2.7, 2.8, 2.9, 2.6, 2.8, 3.0,
             2.8, 1.5, 1.0, 1.8, 2.5, 2.3, 2.2, 2.4, 2.1, 2.3, 2.2]]
p22_corg_fit = [[77.0, 77.04, 77.088, 77.1], [0.35, 0.35, 2.8, 2.8]]
p22_corg_err = [77.04, 0.012, 3.5]

# GI12c start
p23_age = [45980, 47680]
p23_d18o = [-38.1, -38.6, -39.0, -38.4, -39.2, -38.7, -38.3, -38.9, -38.5, -39.1, -38.8, -38.2, -38.6, -38.9, -38.4,
            -39.0, -38.6, -37.5, -38.8, -38.3, -38.9, -38.5, -38.1, -38.7, -37.9, -38.4, -38.2, -37.8, -38.6, -37.6,
            -37.3, -40.1, -42.0, -43.0, -42.5, -43.2, -42.1, -42.8, -43.4, -42.6, -42.0, -43.1, -42.4, -42.9, -43.6,
            -42.2, -42.7, -43.0, -41.8, -43.3, -43.9, -42.5, -44.3, -43.6, -44.5, -43.0, -43.4, -41.5, -42.8, -41.2]
p23_d18o_fit = [[45980, 46850, 46930, 47680], [-38.8, -38.8, -42.8, -42.8]]
p23_d18o_err = [46950, 30, -44.7]
p23_depth = [[77.2, 78.5]]
p23_corg = [[5.5, 6.0, 5.2, 6.5, 5.8, 7.2, 6.3, 5.5, 6.8, 5.0, 5.6, 4.8, 5.3, 4.6, 4.9, 4.0, 4.4, 5.0, 3.8, 4.2, 4.5,
             3.6, 4.0, 2.5, 3.8, 4.1, 3.2, 3.6, 2.0, 3.4, 3.0, 3.3, 2.8, 1.2, 2.9, 2.5, 3.1, 2.2, 2.6, 1.8, 2.3, 2.0,
             1.5, 1.8, 1.2, 1.5, 0.9, 1.1, 0.7, 0.8, 0.5, 0.6, 0.4, 0.7, 0.5, 0.6, 0.8, 0.5, 0.7, 0.6, 0.9, 0.5, 0.7,
             0.6, 0.8, 0.7, 0.5, 0.8, 0.6, 0.7, 0.9, 0.6, 0.8, 0.7, 0.5, 0.8, 0.9, 0.7, 0.6, 0.8, 0.9, 0.7, 0.8, 0.6,
             0.8]]
p23_corg_fit = [[77.2, 78.15, 78.5], [5.9, 0.0, 0.0]]
p23_corg_err = [78.2, 0.06, 2.0]

# GI13 end/GS13 start
p24_age = [47790, 48890]
p24_d18o = [-43.8, -40.4, -42.5, -43.0, -44.0, -43.8, -42.5, -41.6, -43.6, -44.1, -43.5, -41.7, -42.9, -43.8, -44.0,
            -45.0, -43.4, -43.9, -44.2, -43.4, -43.2, -43.3, -42.9, -43.4, -42.8, -42.6, -44.3, -43.8, -42.7, -43.2,
            -42.5, -41.9, -42.3, -41.5, -42.6, -41.4, -40.4, -40.5, -41.3, -40.8, -41.6, -41.2, -40.7, -41.5, -41.0,
            -40.4, -40.6, -41.7, -40.5, -41.2, -40.3, -41.4, -40.9, -40.4, -41.6, -40.6]
p24_d18o_fit = [[47790, 48300, 48480, 48890], [-43.2, -43.2, -41.1, -41.1]]
p24_d18o_err = [48600, 100, -44.0]
p24_depth = [[87.36, 88.52]]
p24_corg = [[1.4, 1.8, 1.2, 1.6, 2.0, 1.5, 1.9, 1.3, 1.7, 2.2, 1.6, 2.0, 1.8, 2.4, 1.9, 2.2, 1.7, 2.5, 2.1, 2.3, 2.0,
             2.6, 2.2, 2.8, 2.4, 2.1, 2.7, 2.5, 3.0, 2.3, 2.8, 2.6, 3.2, 2.7, 2.9, 2.5, 3.3, 3.0, 2.8, 3.5, 3.1, 3.4,
             2.9, 3.8, 3.2, 3.6, 3.3, 4.0, 3.4, 3.7, 4.9, 3.5, 4.2, 3.6, 4.0, 4.6, 3.7, 4.3, 3.9, 4.5, 4.0, 4.4, 3.8,
             4.7, 4.1, 4.3, 3.9, 4.6, 4.2, 4.4, 4.0, 4.8, 3.6, 4.5, 3.8, 5.0, 4.2, 3.5, 4.8, 4.0, 4.6, 4.3]]
p24_corg_fit = [[87.38, 88.43, 88.52], [1.4, 4.3, 4.3]]
p24_corg_err = [88.37, 0.04, 2.0]

# GI13c start
p25_age = [49092, 49412]
p25_d18o = [-39.2, -39.0, -39.2, -38.4, -40.5, -41.1, -42.0, -40.9, -42.4, -42.0, -42.3, -42.5, -42.6, -41.8, -42.1]
p25_d18o_fit = [[49092, 49165, 49233, 49442], [-39.2, -39.2, -42.0, -42.0]]
p25_d18o_err = [49233, 17, -42.8]
p25_depth = [[89.58, 89.658]]
p25_corg = [[4.6, 4.5, 4.6, 4.6, 4.5, 4.3, 4.0, 3.9, 3.8, 4.0, 4.2, 4.3, 4.2, 4.3, 4.2, 4.1, 3.6, 2.1, 2.0, 1.9, 2.0,
             2.4, 2.8, 3.0, 2.9, 2.8, 2.6, 2.7, 2.5, 2.6, 2.5, 2.6, 2.4, 2.5, 2.6, 2.5, 2.3, 2.5, 2.3, 2.2]]
p25_corg_fit = [[89.58, 89.585, 89.633, 89.66], [4.35, 4.35, 2.5, 2.5]]
p25_corg_err = [89.63, 0.005, 4.95]

# GI14 end/GS14QS start
p26_age = [49240, 50280]
p26_d18o = [-42.3, -42.0, -42.6, -42.2, -41.8, -42.7, -41.4, -41.8, -41.1, -41.5, -40.7, -41.2, -40.9, -41.7, -40.5,
            -41.0, -40.8, -40.3, -40.6, -39.9, -41.0, -40.2, -40.8, -40.0, -40.6, -41.1, -40.3, -40.5, -40.9, -40.2,
            -41.2, -40.4, -40.7, -41.0, -40.3, -40.6, -41.3, -40.1, -39.1, -41.2, -40.5, -40.2, -41.4, -40.0, -40.7,
            -40.3, -41.0, -40.6, -40.2, -40.4, -40.1, -40.3, -41.2]
p26_d18o_fit = [[49240, 49600, 50280], [-42.3, -40.5, -40.5]]
p26_d18o_err = [49573, 52, -42.95]
p26_depth = [[89.6, 91.46]]
p26_corg = [[2.5, 2.8, 2.3, 3.0, 2.6, 2.4, 2.9, 2.2, 2.7, 3.1, 2.5, 2.8, 2.4, 2.6, 3.0, 2.3, 2.7, 2.5, 2.9, 2.6, 7.0,
             2.4, 2.8, 2.6, 3.2, 2.5, 2.7, 2.3, 2.9, 2.6, 2.8, 2.4, 2.7, 3.0, 2.6, 3.0, 2.5, 4.0, 3.2, 5.5, 2.8, 4.2,
             6.0, 3.5, 5.0, 7.5, 4.2, 3.0, 6.5, 5.2, 8.0, 4.5, 6.8, 3.5, 7.2, 5.8, 9.0, 6.2, 8.5, 5.0, 9.5, 7.0, 10.0,
             6.5, 8.8, 10.5, 7.5, 9.2, 11.0, 8.0, 10.2, 9.0, 10.8, 9.5, 10.5, 8.8, 11.5, 9.2, 10.0, 8.5, 11.0, 9.8,
             10.5, 9.0, 5.0, 9.5, 10.8, 8.6, 11.2, 9.4, 10.2, 8.8, 11.5, 9.6, 10.4, 9.0, 11.0, 10.0, 9.2, 10.5]]
p26_corg_fit = [[89.6, 90.25, 90.95, 91.46], [2.6, 2.6, 9.4, 9.4]]
p26_corg_err = [91.0, 0.04, 2.0]

# GI14a start
p27_age = [51322, 51634]
p27_d18o = [-39.4, -40.7, -39.7, -40.2, -39.8, -39.9, -40.1, -40.4, -41.1, -41.8, -40.5, -40.6, -41.4, -41.7, -40.3,
            -41.8]
p27_d18o_fit = [[51322, 51413, 51490, 51634], [-39.9, -39.9, -41.1, -41.1]]
p27_d18o_err = [51484, 49, -42.95]
p27_depth = [[91.5205, 91.5395]]
p27_corg = [[6.2, 5.9, 5.7, 3.5, 2.4, 2.2, 2.1, 2.0, 2.05, 1.95, 2.0, 1.9, 1.95, 2.0, 1.9, 1.95, 2.0, 1.95, 1.9, 2.0,
             1.95, 2.05, 2.0, 1.95, 2.0, 2.05, 1.9, 2.2, 2.15, 2.2]]
p27_corg_fit = [[91.52, 91.5235, 91.54], [6.6, 2.1, 1.9]]
p27_corg_err = [91.5235, 0.0002, 6.0]

# GI14b start
p28_age = [51503, 51785]
p28_d18o = [-41.9, -40.5, -40.6, -41.4, -41.6, -40.3, -41.8, -40.2, -39.1, -39.0, -39.0, -39.3, -39.3, -39.4]
p28_d18o_fit = [[51503, 51630, 51672, 51785], [-41.3, -41.3, -39.05, -39.05]]
p28_d18o_err = [51667, 16, -42.95]
p28_depth = [[91.70, 91.74]]
p28_corg = [[6.8, 6.5, 6.7, 6.4, 6.6, 7.0, 6.6, 6.8, 7.1, 6.9, 7.0, 6.7, 5.0, 4.6, 5.3, 5.8, 6.2, 6.0, 6.4, 6.3, 7.5,
             9.5, 10.5, 11.2, 11.8, 10.8, 10.2, 11.3, 10.5, 9.8, 9.5, 9.9, 10.1, 9.6, 9.8, 10.3, 9.7, 10.8, 10.2,
             9.4]]
p28_corg_fit = [[91.70, 91.712, 91.726, 91.74], [6.7, 6.7, 9.8, 9.8]]
p28_corg_err = [91.726, 0.003, 13.9]

# GI14e start
p29_age = [53200, 54640]
p29_d18o = [-38.2, -38.5, -38.9, -38.6, -39.1, -38.4, -39.5, -38.7, -37.9, -39.0, -38.6, -39.3, -38.8, -39.6, -38.9,
            -39.2, -38.5, -39.0, -38.7, -39.4, -39.1, -38.6, -39.6, -39.2, -38.8, -38.3, -39.0, -38.5, -37.9, -38.2,
            -37.6, -38.4, -38.8, -40.2, -41.3, -41.7, -38.5, -38.6, -38.4, -38.8, -38.5, -38.9, -38.6, -37.8, -38.9,
            -43.6, -41.2, -43.0, -42.4, -42.8, -43.6, -42.2, -43.1, -42.6, -43.3, -42.4, -43.5, -42.9, -43.8, -42.5,
            -43.2, -42.7, -43.9, -42.6, -43.3, -42.8, -42.1, -43.0, -42.4, -42.8]
p29_d18o_fit = [[53200, 54150, 54230, 54640], [-38.8, -38.8, -42.7, -42.7]]
p29_d18o_err = [54230, 50, -44.3]
p29_depth = [[93.41, 93.452]]
p29_corg = [[8.5, 8.7, 8.8, 8.2, 8.8, 8.6, 9.5, 9.3, 9.1, 9.0, 8.9, 8.8, 7.5, 6.5, 5.8, 5.7, 5.0, 4.7, 4.8, 4.4, 4.2,
             4.0, 3.8, 4.4, 4.5, 4.1]]
p29_corg_fit = [[93.41, 93.429, 93.4385, 93.452], [8.8, 8.8, 4.0, 4.0]]
p29_corg_err = [93.4385, 0.001, 9.0]

# GI15.1 end/GS15.1 start
p30_age = [54200, 55040]
p30_d18o = [-42.0, -42.8, -42.4, -43.1, -42.5, -41.8, -43.0, -42.3, -42.0, -43.2, -42.6, -43.6, -43.4, -42.5, -42.8,
            -43.3, -42.4, -42.2, -42.6, -43.1, -42.2, -42.9, -42.5, -41.9, -42.8, -42.6, -43.0, -42.4, -42.8, -42.6,
            -40.8, -41.0, -42.4, -43.3, -40.8, -42.7, -41.1, -39.1, -37.6, -37.2, -38.9]
p30_d18o_fit = [[54200, 54915, 55005, 55040], [-42.6, -42.6, -37.8, -37.8]]
p30_d18o_err = [54890, 10, -43.9]
p30_depth = [[93.6705, 93.6892]]
p30_corg = [[4.3, 4.4, 4.4, 4.5, 4.5, 4.1, 4.7, 4.3, 4.2, 3.9, 4.1, 4.2, 4.6, 4.4, 5.5, 6.5, 7.2, 6.3, 6.5, 6.4]]
p30_corg_fit = [[93.67, 93.6835, 93.686, 93.69], [4.25, 4.25, 6.95, 6.95]]
p30_corg_err = [93.6843, 0.0005, 7.5]

# GI15.1 start
p31_age = [54916, 55375]
p31_d18o = [-37.8, -37.3, -38.9, -40.1, -42.8, -42.2, -42.6, -42.5, -42.6, -44.0, -40.9, -41.4, -43.2, -42.0, -42.5,
            -43.4, -42.0, -43.9, -43.5]
p31_d18o_fit = [[54916, 55017, 55375], [-38.0, -42.6, -42.6]]
p31_d18o_err = [55017, 17, -44.0]
p31_depth = [[93.7005, 93.7195]]
p31_corg = [[6.2, 6.4, 6.5, 6.2, 5.5, 4.9, 4.9, 4.9, 4.3, 3.9, 3.8, 3.9, 4.0, 4.3, 4.4, 4.7, 3.8, 4.0, 3.9, 4.4,
             4.2]]
p31_corg_fit = [[93.70, 93.701, 93.709, 93.72], [5.85, 5.85, 4.25, 4.25]]
p31_corg_err = [93.7095, 0.0015, 6.98]

# GI15.2 end/GS15.2 start
p32_age = [54935, 55760]
p32_d18o = [-43.3, -42.3, -42.8, -43.0, -42.6, -43.1, -44.0, -41.1, -42.2, -42.4, -43.1, -42.6, -42.8, -42.4, -43.5,
            -42.2, -44.0, -41.6, -41.4, -42.3, -40.9, -40.2, -37.8, -39.4, -39.0, -39.6, -39.5, -39.1, -39.8, -39.2,
            -39.6, -39.3, -39.5, -39.2, -39.7, -39.4, -39.3, -39.2, -38.2]
p32_d18o_fit = [[54935, 55280, 55430, 55760], [-43.0, -43.0, -39.3, -39.3]]
p32_d18o_err = [55290, 40, -45.0]
p32_depth = [[93.77, 94.105]]
p32_corg = [[4.0, 3.5, 4.3, 3.2, 3.8, 4.5, 3.4, 2.5, 3.6, 4.1, 3.0, 2.2, 3.8, 4.6, 3.5, 5.2, 4.4, 6.0, 5.0, 6.4, 5.5,
             6.8, 5.8, 6.2, 6.5, 7.2, 6.0, 7.5, 6.8, 6.3, 7.8, 6.9, 7.4, 6.6, 8.0, 7.1, 7.6, 6.8, 8.3, 7.4, 7.9, 7.0,
             8.5, 7.6, 8.1, 7.3, 8.6, 7.8, 8.2, 7.5, 8.8, 8.0, 8.4, 7.7, 8.6, 9.2, 8.2, 9.5, 8.8, 9.0, 8.4, 9.8, 9.1,
             8.7, 10.2, 9.3, 8.9, 9.6, 10.5, 9.0, 9.4, 10.8, 9.2, 8.8, 10.0, 9.5, 10.6, 8.5, 6.8, 7.2]]
p32_corg_fit = [[93.77, 93.80, 93.83, 93.87, 94.0, 94.09, 94.105], [3.7, 3.6, 4.2, 5.7, 8.2, 9.2, 9.2]]
p32_corg_err = [93.79, 0.015, 6.0]

# GI15.2 start
p33_age = [55428, 56040]
p33_d18o = [-39.4, -38.8, -39.8, -39.4, -39.9, -39.5, -39.4, -39.2, -38.2, -39.4, -39.7, -40.5, -43.8, -41.0, -43.9,
            -43.4, -42.8, -43.7, -42.2, -43.1, -42.5, -44.1, -42.4, -42.8, -42.5, -43.5, -42.3, -41.8, -41.3, -42.2,
            -42.9, -43.0]
p33_d18o_fit = [[55428, 55645, 55715, 56040], [-39.3, -39.3, -42.6, -42.6]]
p33_d18o_err = [55620, 25, -44.0]
p33_depth = [[94.93, 95.27]]
p33_corg = [[8.2, 7.0, 8.6, 7.5, 7.8, 6.8, 8.0, 7.3, 8.4, 7.6, 7.1, 8.7, 7.4, 7.9, 6.9, 7.7, 8.1, 7.2, 7.6, 9.0, 7.0,
             6.5, 7.8, 8.9, 7.3, 6.4, 7.5, 6.8, 5.5, 7.2, 6.0, 4.8, 7.5, 6.2, 5.0, 6.8, 2.2, 2.0, 6.5, 5.8, 7.0, 6.1,
             6.3, 5.6, 5.9, 5.2, 6.1, 5.4, 4.8, 5.6, 5.0, 5.3, 4.6, 4.9, 4.4, 4.7, 4.1, 4.5, 3.9, 4.2, 3.6, 3.9, 3.4,
             3.6, 3.1, 3.3, 3.0, 2.6, 3.0, 2.4, 2.8, 2.2, 2.9, 2.5, 3.1, 2.3, 2.7, 2.6, 3.0, 2.4, 2.8, 2.5, 3.1, 2.7,
             2.9]]
p33_corg_fit = [[94.93, 95.0, 95.05, 95.1, 95.2, 95.24, 95.27], [7.3, 7.3, 6.6, 5.3, 3.1, 2.7, 2.7]]
p33_corg_err = [95.02, 0.013, 2.0]

# GI16 end/GS16.1 start
p34_age = [55860, 57540]
p34_d18o = [-42.1, -43.2, -42.4, -41.8, -42.9, -43.5, -42.2, -41.6, -43.0, -42.5, -43.6, -41.9, -42.7, -43.2, -42.0,
            -42.8, -43.4, -41.6, -42.3, -44.0, -42.6, -42.0, -41.7, -42.1, -41.4, -41.0, -41.5, -40.8, -41.2, -40.6,
            -40.9, -40.3, -40.6, -39.8, -40.4, -40.0, -40.6, -39.6, -40.8, -40.2, -39.4, -40.5, -40.9, -40.1, -40.7,
            -39.8, -40.3, -41.0, -40.4, -39.7, -40.6, -40.2, -40.9, -39.9, -40.5, -40.1, -40.8, -39.6, -40.3, -40.7,
            -39.5, -40.4, -40.1, -39.3, -40.6, -39.8, -40.2, -39.4, -40.9, -39.2]
p34_d18o_fit = [[55860, 56350, 56700, 57540], [-42.3, -42.3, -40.3, -40.3]]
p34_d18o_err = [56330, 60, -44.5]
p34_depth = [[99.6, 99.748]]
p34_corg = [[2.8, 3.1, 2.6, 3.0, 3.2, 2.7, 2.9, 3.1, 2.5, 2.8, 3.0, 2.6, 3.2, 2.4, 2.0, 2.7, 3.0, 3.3, 2.8, 3.5, 3.1,
             2.9, 3.2, 2.8, 3.1, 3.0, 3.3, 2.9, 3.1, 3.4, 3.0, 3.2, 2.9, 3.3, 3.1, 3.4, 3.2, 3.0, 3.3, 3.4, 2.8, 2.6,
             2.7, 2.9, 2.8, 3.0, 3.2, 3.3, 3.1, 3.5, 3.4, 3.6, 3.5, 3.7, 3.3, 3.8, 3.6, 4.2, 4.4, 4.5, 4.0, 4.4, 3.6,
             3.9, 3.3, 4.0, 3.5, 3.8, 3.4, 3.7, 3.9, 3.5, 3.8, 3.6, 3.7]]
p34_corg_fit = [[99.6, 99.685, 99.722, 99.748], [2.98, 2.98, 3.85, 3.85]]
p34_corg_err = [99.683, 0.008, 4.45]

# GI16.1c start
p35_age = [57993, 58276]
p35_d18o = [-38.2, -38.3, -39.0, -42.1, -42.1, -41.6, -42.9, -41.2, -42.5, -40.5, -38.3, -38.9, -37.8, -38.6]
p35_d18o_fit = [[57993, 58142, 58276], [-38.3, -42.9, -37.6]]
p35_d18o_err = [58142, 18, -43.9]
p35_depth = [[101.16, 101.2]]
p35_corg = [[10.6, 10.3, 10.0, 9.5, 9.6, 9.8, 10.2, 9.6, 8.6, 7.2, 6.5, 5.8, 5.2, 4.6, 4.4, 4.2, 4.3, 3.6, 3.9, 4.4,
             4.6, 4.9, 6.2, 8.4, 10.0, 10.4, 10.8, 10.1]]
p35_corg_fit = [[101.16, 101.181, 101.20], [11.2, 3.1, 11.5]]
p35_corg_err = [101.181, 0.0007, 7.0]

# GI16.2 end/GS16.2 start
p36_age = [58062, 58272]
p36_d18o = [-42.2, -42.1, -41.5, -42.9, -41.1, -42.6, -40.5, -38.3, -39.0, -37.7, -38.7]
p36_d18o_fit = [[58062, 58154, 58190, 58272], [-42.1, -42.1, -38.5, -38.5]]
p36_d18o_err = [58154, 11, -43.9]
p36_depth = [[101.1745, 101.2]]
p36_corg = [[4.3, 4.4, 4.5, 4.2, 3.7, 3.6, 3.9, 4.2, 4.6, 4.1, 4.3, 4.1, 4.2, 4.4, 4.5, 5.0, 6.0, 7.3, 8.8, 9.5, 9.9,
             10.0, 10.1, 10.3, 10.4, 10.5, 10.8, 10.9, 10.6, 10.1]]
p36_corg_fit = [[101.1745, 101.1875, 101.1905, 101.2], [4.4, 4.4, 9.8, 9.8]]
p36_corg_err = [101.1875, 0.001, 13.0]

# GI16.2 start
p37_age = [58150, 58488]
p37_d18o = [-38.3, -39.1, -38.0, -37.9, -38.7, -42.0, -41.5, -41.0, -43.0, -42.0, -43.1, -41.8, -43.4, -41.9, -41.9,
            -42.1, -42.4, -42.2, -43.3]
p37_d18o_fit = [[58150, 58225, 58275, 58488], [-38.1, -38.1, -42.5, -42.5]]
p37_d18o_err = [58312, 15, -43.9]
p37_depth = [[101.28, 101.377]]
p37_corg = [[7.6, 7.4, 8.0, 7.5, 7.8, 7.3, 7.7, 8.0, 8.4, 7.6, 7.9, 7.5, 7.2, 6.8, 7.0, 6.5, 6.2, 6.8, 6.4, 6.0, 5.5,
             6.8, 4.8, 6.2, 3.9, 5.8, 6.5, 5.0, 7.2, 5.6, 6.0, 5.2, 6.5, 7.4, 5.8, 7.0, 4.5, 6.6, 3.8, 5.2, 6.8, 7.5,
             6.2, 3.4, 5.5, 6.9, 6.1, 6.8, 7.1, 6.7, 7.0, 6.6, 6.9, 7.2, 6.5, 6.8, 7.0, 6.4, 6.9, 6.6, 7.0, 6.2, 5.5,
             4.0, 6.0, 3.6, 5.2, 4.8, 6.3, 5.0, 4.5, 3.7, 4.8, 5.2, 4.9]]
p37_corg_fit = [[101.28, 101.29, 101.31, 101.377], [7.7, 7.7, 5.6, 5.6]]
p37_corg_err = [101.313, 0.012, 9.0]

# GI17 end/GS17.1 start
p38_age = [58300, 58770]
p38_d18o = [-43.2, -43.4, -42.0, -43.2, -42.1, -42.2, -43.5, -42.3, -43.3, -42.0, -42.3, -40.7, -41.0, -41.0, -39.1,
            -39.4, -39.2, -38.2, -39.6, -39.8]
p38_d18o_fit = [[58300, 58546, 58664, 58770], [-42.5, -42.5, -39.3, -39.3]]
p38_d18o_err = [58655, 36, -42.0]
p38_depth = [[101.335, 101.5], [101.72, 101.833]]
p38_corg = [[8.2, 6.5, 4.0, 7.2, 5.5, 3.2, 6.8, 4.5, 7.5, 3.8, 5.8, 6.9, 2.8, 5.2, 7.0, 4.2, 6.2, 3.5, 5.6, 7.3, 4.8,
             2.5, 6.0, 5.1, 3.9, 6.6, 4.4, 7.1, 3.0, 5.4, 6.3, 4.7, 2.8, 5.9, 4.1, 6.7, 3.6, 5.3, 4.9, 6.4, 3.3, 5.0,
             4.6, 6.1, 2.9, 4.3, 5.7, 3.8, 4.5, 5.2, 3.6, 4.8, 4.0, 5.5, 4.2, 3.4, 4.7, 3.9, 4.3, 4.0],
            [6.5, 3.5, 4.5, 7.0, 8.5, 9.5, 8.8, 10.2, 9.0, 11.0, 9.5, 10.5, 8.8, 11.5, 9.8, 10.8, 9.2, 11.2, 10.0, 9.4,
             11.8, 10.4, 9.6, 11.0, 10.2, 9.0, 10.8, 9.8, 11.4, 10.0, 9.5, 10.6, 9.2, 10.4, 9.8]]
p38_corg_fit = [[101.335, 101.5, 101.833], [5.0, 5.0, 10.5]]
p38_corg_err = [101.61, 0.11, 10.0]

# GI17.1c start
p39_age = [58934, 59293]
p39_d18o = [-38.3, -38.2, -37.9, -38.2, -38.0, -37.8, -38.0, -40.7, -42.2, -42.4, -42.0, -42.2, -43.6, -41.8, -42.5,
            -43.5, -42.3, -41.2, -42.3]
p39_d18o_fit = [[58934, 59060, 59107, 59293], [-38.1, -38.1, -42.3, -42.3]]
p39_d18o_err = [59107, 9, -43.9]
p39_depth = [[102.2745, 102.318]]
p39_corg = [[21.0, 21.5, 21.0, 20.5, 21.0, 22.0, 22.5, 23.0, 22.0, 22.5, 22.0, 21.5, 20.5, 20.0, 17.0, 12.0, 5.0, 3.0,
             2.5, 2.6, 3.8, 4.2, 4.0]]
p39_corg_fit = [[102.2745, 102.296, 102.3088, 102.318], [22.5, 22.5, 1.8, 1.8]]
p39_corg_err = [102.309, 0.0015, 20.0]

# Panel titles; a title given as a list is set piecewise as
# (text, x offset from the panel's left axis, y offset, font size).
GI14_TITLE = [("GI14 end/GS14", -22, 0, 15), ("QS", 84, -6, 10.5), ("start", 104, 0, 15)]

# Axis specs: (low, high, tick step, labelled ticks, decimals)
PANELS = [
    ("GI1e start", p01_age, p01_d18o, p01_d18o_fit, p01_d18o_err, p01_depth, p01_corg, p01_corg_fit, p01_corg_err,
     (14500, 14912, 100, [14600, 14800], 0), (-44, -33.9, 2, [-36, -40, -44], 0),
     (19.14, 19.232, 0.02, [19.16, 19.20], 2), (0.4, 2.45, 0.4, [0.8, 1.6, 2.4], 1)),
    ("GS2.2 start", p02_age, p02_d18o, p02_d18o_fit, p02_d18o_err, p02_depth, p02_corg, p02_corg_fit, p02_corg_err,
     (22983, 23407, 100, [23000, 23200], 0), (-44, -38.9, 1, [-40, -42, -44], 0),
     (18.80, 19.147, 0.05, [18.80, 19.00], 2), (0.4, 2.45, 0.4, [0.8, 1.6, 2.4], 1)),
    ("GI2.2 start", p03_age, p03_d18o, p03_d18o_fit, p03_d18o_err, p03_depth, p03_corg, p03_corg_fit, p03_corg_err,
     (23267, 23704, 100, [23400, 23600], 0), (-46, -38, 1, [-38, -40, -42, -44, -46], 0),
     (19.125, 19.236, 0.025, [19.15, 19.20], 2), (0.43, 2.8, 0.4, [0.8, 1.6, 2.4], 1)),
    ("GI3 end/GS3 start", p04_age, p04_d18o, p04_d18o_fit, p04_d18o_err, p04_depth, p04_corg, p04_corg_fit,
     p04_corg_err, (27361, 27800, 100, [27400, 27600], 0), (-46, -38, 1, [-38, -40, -42, -44, -46], 0),
     (34.1, 34.4, 0.05, [34.1, 34.2, 34.3, 34.4], 1), (0, 5, 1, [0, 2, 4], 1)),
    ("GI3 start", p05_age, p05_d18o, p05_d18o_fit, p05_d18o_err, p05_depth, p05_corg, p05_corg_fit, p05_corg_err,
     (27683, 27947, 50, [27700, 27900], 0), (-46, -38, 1, [-38, -40, -42, -44, -46], 0),
     (34.73, 35.2, 0.1, [34.8, 35.0, 35.2], 1), (0, 4, 0.5, [0, 1, 2, 3, 4], 1)),
    ("GI4 end/GS4 start", p06_age, p06_d18o, p06_d18o_fit, p06_d18o_err, p06_depth, p06_corg, p06_corg_fit,
     p06_corg_err, (28490, 28870, 50, [28500, 28700], 0), (-46, -38, 1, [-38, -40, -42, -44, -46], 0),
     (39.4, 39.755, 0.05, [39.4, 39.6], 1), (0, 4, 0.5, [0, 1, 2, 3, 4], 1)),
    ("GI4 start", p07_age, p07_d18o, p07_d18o_fit, p07_d18o_err, p07_depth, p07_corg, p07_corg_fit, p07_corg_err,
     (28718, 29200, 100, [28800, 29200], 0), (-46, -38, 1, [-38, -40, -42, -44, -46], 0),
     (40.0, 40.148, 0.025, [40.0, 40.1], 1), (0, 2.5, 0.5, [0, 1, 2], 1)),

    ("GI5.1 end/GS5.1 start", p08_age, p08_d18o, p08_d18o_fit, p08_d18o_err, p08_depth, p08_corg, p08_corg_fit,
     p08_corg_err, (29990, 31000, 100, [30000, 30500, 31000], 0), (-48, -40, 1, [-40, -42, -44, -46, -48], 0),
     (53.675, 54.155, 0.05, [53.8, 54.0], 1), (0.4, 1.2, 0.1, [0.4, 0.6, 0.8, 1.0, 1.2], 1)),
    ("GI5.2 start", p09_age, p09_d18o, p09_d18o_fit, p09_d18o_err, p09_depth, p09_corg, p09_corg_fit, p09_corg_err,
     (32267, 32850, 100, [32400, 32800], 0), (-46, -38, 1, [-38, -40, -42, -44, -46], 0),
     (54.9, 55.225, 0.05, [54.9, 55.1], 1), (0, 1.95, 0.4, [0.0, 0.8, 1.6], 1)),
    ("GI6 end/GS6 start", p10_age, p10_d18o, p10_d18o_fit, p10_d18o_err, p10_depth, p10_corg, p10_corg_fit,
     p10_corg_err, (33100, 33610, 100, [33200, 33400, 33600], 0), (-46, -38, 1, [-38, -40, -42, -44, -46], 0),
     (56.22, 57.06, 0.1, [56.4, 56.8], 1), (0, 3, 0.5, [0, 1, 2, 3], 1)),
    ("GI6 start", p11_age, p11_d18o, p11_d18o_fit, p11_d18o_err, p11_depth, p11_corg, p11_corg_fit, p11_corg_err,
     (33570, 33907, 50, [33600, 33800], 0), (-46, -38, 1, [-38, -40, -42, -44, -46], 0),
     (57.36, 57.481, 0.02, [57.36, 57.44], 2), (0, 4, 0.5, [0, 1, 2, 3, 4], 1)),
    ("GI7 end/GS7 start", p12_age, p12_d18o, p12_d18o_fit, p12_d18o_err, p12_depth, p12_corg, p12_corg_fit,
     p12_corg_err, (34490, 35005, 100, [34600, 35000], 0), (-46, -38, 1, [-38, -40, -42, -44, -46], 0),
     (62.1, 62.45, 0.05, [62.1, 62.3], 1), (0.2, 1.4, 0.2, [0.4, 0.8, 1.2], 1)),
    ("GI7c start", p13_age, p13_d18o, p13_d18o_fit, p13_d18o_err, p13_depth, p13_corg, p13_corg_fit, p13_corg_err,
     (35247, 35775, 100, [35300, 35700], 0), (-46, -38, 1, [-38, -40, -42, -44, -46], 0),
     (63.7, 64.0, 0.05, [63.7, 63.9], 1), (0.4, 1.36, 0.2, [0.4, 0.8, 1.2], 1)),
    ("GI8 end/GS8 start", p14_age, p14_d18o, p14_d18o_fit, p14_d18o_err, p14_depth, p14_corg, p14_corg_fit,
     p14_corg_err, (35780, 38000, 250, [36000, 37000, 38000], 0), (-46, -38, 1, [-38, -40, -42, -44, -46], 0),
     (65.2, 65.8, 0.1, [65.2, 65.6], 1), (0.8, 3.2, 0.4, [0.8, 1.6, 2.4, 3.2], 1)),

    ("GI8c start", p15_age, p15_d18o, p15_d18o_fit, p15_d18o_err, p15_depth, p15_corg, p15_corg_fit, p15_corg_err,
     (37823, 38740, 100, [38000, 38500], 0), (-46, -35.6, 2, [-36, -40, -44], 0),
     (66.31, 67.29, 0.1, [66.4, 66.8, 67.2], 1), (0, 5.05, 1, [0, 2, 4], 1)),
    ("GI9 end/GS9 start", p16_age, p16_d18o, p16_d18o_fit, p16_d18o_err, p16_depth, p16_corg, p16_corg_fit,
     p16_corg_err, (39580, 40150, 100, [39700, 40100], 0), (-46, -38, 1, [-38, -40, -42, -44, -46], 0),
     (69.1, 69.5, 0.05, [69.1, 69.3], 1), (0, 2.4, 0.4, [0, 0.8, 1.6, 2.4], 1)),
    ("GI9 start", p17_age, p17_d18o, p17_d18o_fit, p17_d18o_err, p17_depth, p17_corg, p17_corg_fit, p17_corg_err,
     (40026, 40448, 50, [40100, 40300], 0), (-46, -38, 1, [-38, -40, -42, -44, -46], 0),
     (70.35, 70.515, 0.025, [70.35, 70.45], 2), (0.4, 2.4, 0.4, [0.8, 1.6, 2.4], 1)),
    ("GI10 end/GS10 start", p18_age, p18_d18o, p18_d18o_fit, p18_d18o_err, p18_depth, p18_corg, p18_corg_fit,
     p18_corg_err, (40592, 41172, 100, [40700, 41100], 0), (-46, -38, 1, [-38, -40, -42, -44, -46], 0),
     (71.748, 72.0, 0.05, [71.8, 72.0], 1), (0.6, 1.6, 0.2, [0.8, 1.2, 1.6], 1)),
    ("GI10 start", p19_age, p19_d18o, p19_d18o_fit, p19_d18o_err, p19_depth, p19_corg, p19_corg_fit, p19_corg_err,
     (41234, 41741, 100, [41300, 41700], 0), (-44, -38, 1, [-38, -40, -42, -44], 0),
     (72.49, 72.704, 0.05, [72.6, 72.7], 1), (0.4, 2.0, 0.4, [0.4, 0.8, 1.2, 1.6, 2.0], 1)),
    ("GI11 end/GS11 start", p20_age, p20_d18o, p20_d18o_fit, p20_d18o_err, p20_depth, p20_corg, p20_corg_fit,
     p20_corg_err, (42056, 42427, 50, [42100, 42300], 0), (-44, -38, 1, [-38, -40, -42, -44], 0),
     (75.3, 75.448, 0.025, [75.3, 75.4], 1), (0.8, 2.8, 0.4, [0.8, 1.6, 2.4], 1)),
    ("GI11 start", p21_age, p21_d18o, p21_d18o_fit, p21_d18o_err, p21_depth, p21_corg, p21_corg_fit, p21_corg_err,
     (42815, 43700, 100, [42900, 43300, 43700], 0), (-46, -38, 1, [-38, -40, -42, -44, -46], 0),
     (76.4, 76.6, 0.05, [76.4, 76.6], 1), (1, 5, 1, [1, 2, 3, 4, 5], 1)),

    ("GI12 end/GS12 start", p22_age, p22_d18o, p22_d18o_fit, p22_d18o_err, p22_depth, p22_corg, p22_corg_fit,
     p22_corg_err, (43620, 45500, 200, [44000, 44800], 0), (-46, -38, 1, [-38, -40, -42, -44, -46], 0),
     (77.0, 77.101, 0.01, [77.00, 77.04, 77.08], 2), (0, 4, 0.5, [0, 1, 2, 3, 4], 1)),
    ("GI12c start", p23_age, p23_d18o, p23_d18o_fit, p23_d18o_err, p23_depth, p23_corg, p23_corg_fit, p23_corg_err,
     (45970, 47700, 250, [46000, 47000], 0), (-46, -36, 2, [-36, -40, -44], 0),
     (77.18, 78.52, 0.2, [77.6, 78.4], 1), (0, 8, 1, [0, 2, 4, 6, 8], 1)),
    ("GI13 end/GS13 start", p24_age, p24_d18o, p24_d18o_fit, p24_d18o_err, p24_depth, p24_corg, p24_corg_fit,
     p24_corg_err, (47780, 48920, 100, [48000, 48500], 0), (-46, -40, 1, [-40, -42, -44, -46], 0),
     (87.34, 88.52, 0.25, [87.40, 87.90, 88.40], 2), (1.1, 6.0, 1, [2, 4, 6], 1)),
    ("GI13c start", p25_age, p25_d18o, p25_d18o_fit, p25_d18o_err, p25_depth, p25_corg, p25_corg_fit, p25_corg_err,
     (49047, 49450, 50, [49200, 49400], 0), (-43, -38, 1, [-38, -40, -42], 0),
     (89.58, 89.66, 0.01, [89.58, 89.62, 89.66], 2), (1, 5, 1, [1, 2, 3, 4, 5], 1)),
    (GI14_TITLE, p26_age, p26_d18o, p26_d18o_fit, p26_d18o_err, p26_depth, p26_corg,
     p26_corg_fit, p26_corg_err, (49230, 50300, 100, [49500, 50000], 0), (-43, -39, 1, [-39, -40, -41, -42, -43], 0),
     (89.6, 91.46, 0.2, [89.60, 90.40, 91.20], 2), (0, 12, 2, [0, 4, 8, 12], 1)),
    ("GI14a start", p27_age, p27_d18o, p27_d18o_fit, p27_d18o_err, p27_depth, p27_corg, p27_corg_fit, p27_corg_err,
     (51320, 51640, 50, [51400, 51600], 0), (-43, -39, 1, [-39, -40, -41, -42, -43], 0),
     (91.52, 91.54, 0.0025, [91.52, 91.53, 91.54], 2), (1, 7, 1, [2, 4, 6], 1)),
    ("GI14b start", p28_age, p28_d18o, p28_d18o_fit, p28_d18o_err, p28_depth, p28_corg, p28_corg_fit, p28_corg_err,
     (51497, 51800, 50, [51600, 51800], 0), (-43, -38, 1, [-38, -40, -42], 0),
     (91.70, 91.74, 0.005, [91.70, 91.72, 91.74], 2), (4, 14, 2, [4, 8, 12], 1)),

    ("GI14e start", p29_age, p29_d18o, p29_d18o_fit, p29_d18o_err, p29_depth, p29_corg, p29_corg_fit, p29_corg_err,
     (53190, 54650, 250, [53500, 54500], 0), (-46, -35.7, 2, [-36, -40, -44], 0),
     (93.41, 93.453, 0.005, [93.42, 93.44], 2), (2, 10, 1, [2, 4, 6, 8, 10], 1)),
    ("GI15.1 end/GS15.1 start", p30_age, p30_d18o, p30_d18o_fit, p30_d18o_err, p30_depth, p30_corg, p30_corg_fit,
     p30_corg_err, (54190, 55050, 125, [54250, 54750], 0), (-44, -36, 2, [-36, -38, -40, -42, -44], 0),
     (93.67, 93.69, 0.0025, [93.67, 93.69], 2), (3, 8, 1, [4, 6, 8], 1)),
    ("GI15.1 start", p31_age, p31_d18o, p31_d18o_fit, p31_d18o_err, p31_depth, p31_corg, p31_corg_fit, p31_corg_err,
     (54908, 55383, 50, [55000, 55200], 0), (-46, -35.7, 2, [-36, -40, -44], 0),
     (93.70, 93.72, 0.0025, [93.70, 93.72], 2), (3, 7, 0.5, [3, 4, 5, 6, 7], 1)),
    ("GI15.2 end/GS15.2 start", p32_age, p32_d18o, p32_d18o_fit, p32_d18o_err, p32_depth, p32_corg, p32_corg_fit,
     p32_corg_err, (54923, 55770, 100, [55000, 55500], 0), (-46, -36, 2, [-36, -40, -44], 0),
     (93.769, 94.107, 0.05, [93.80, 94.00], 2), (2, 12.3, 2, [4, 8, 12], 1)),
    ("GI15.2 start", p33_age, p33_d18o, p33_d18o_fit, p33_d18o_err, p33_depth, p33_corg, p33_corg_fit, p33_corg_err,
     (55418, 56050, 100, [55500, 56000], 0), (-46, -38, 1, [-38, -40, -42, -44, -46], 0),
     (94.928, 95.27, 0.05, [95.00, 95.20], 2), (0, 10, 2, [0, 4, 8], 1)),
    ("GI16 end/GS16.1 start", p34_age, p34_d18o, p34_d18o_fit, p34_d18o_err, p34_depth, p34_corg, p34_corg_fit,
     p34_corg_err, (55850, 57550, 250, [56000, 57000], 0), (-46, -38, 1, [-38, -40, -42, -44, -46], 0),
     (99.6, 99.748, 0.025, [99.60, 99.70], 2), (2, 4.5, 0.5, [2, 3, 4], 1)),
    ("GI16.1c start", p35_age, p35_d18o, p35_d18o_fit, p35_d18o_err, p35_depth, p35_corg, p35_corg_fit, p35_corg_err,
     (57976, 58279, 50, [58000, 58200], 0), (-44, -36, 2, [-36, -38, -40, -42, -44], 0),
     (101.16, 101.20, 0.005, [101.16, 101.18, 101.20], 2), (2, 12.3, 2, [4, 8, 12], 1)),

    ("GI16.2 end/GS16.2 start", p36_age, p36_d18o, p36_d18o_fit, p36_d18o_err, p36_depth, p36_corg, p36_corg_fit,
     p36_corg_err, (58045, 58290, 25, [58050, 58150, 58250], 0), (-44, -36, 2, [-36, -38, -40, -42, -44], 0),
     (101.174, 101.2026, 0.0025, [101.18, 101.20], 2), (2, 14, 2, [4, 8, 12], 1)),
    ("GI16.2 start", p37_age, p37_d18o, p37_d18o_fit, p37_d18o_err, p37_depth, p37_corg, p37_corg_fit, p37_corg_err,
     (58137, 58500, 50, [58200, 58400], 0), (-44, -36, 2, [-36, -38, -40, -42, -44], 0),
     (101.28, 101.377, 0.02, [101.28, 101.36], 2), (2, 9.3, 1, [2, 4, 6, 8], 1)),
    ("GI17 end/GS17.1 start", p38_age, p38_d18o, p38_d18o_fit, p38_d18o_err, p38_depth, p38_corg, p38_corg_fit,
     p38_corg_err, (58291, 58782, 50, [58400, 58600], 0), (-44, -38, 1, [-38, -40, -42, -44], 0),
     (101.33, 101.835, 0.1, [101.40, 101.80], 2), (2, 12.3, 2, [4, 8, 12], 1)),
    ("GI17.1c start", p39_age, p39_d18o, p39_d18o_fit, p39_d18o_err, p39_depth, p39_corg, p39_corg_fit, p39_corg_err,
     (58927, 59307, 50, [59100, 59300], 0), (-44, -36, 2, [-36, -40, -44], 0),
     (102.274, 102.32, 0.01, [102.28, 102.32], 2), (0, 24.5, 5, [0, 10, 20], 1)),
]

ROW_SIZES = [7, 7, 7, 7, 7, 4]

# ---------------------------------------------------------------------------
# Layout geometry (pixels)
# ---------------------------------------------------------------------------
W, H = 1210, 1580
COL_X = [123, 282, 441, 600, 758, 917, 1076]
PW = 103
ROW_Y = [14, 282, 547, 812, 1079, 1346]
FONT = "Arial, 'Liberation Sans', Arimo, sans-serif"

# Row label pieces: (text, x offset px, y offset px, font size). Super- and
# subscripts are set as their own smaller, shifted texts.
ROW_LABELS = [
    ("NGRIP", 0, 36, 16),
    ("\u03b4", 0, 58, 16), ("18", 9, 53, 11), ("O (\u2030)", 21, 58, 16),
    ("AU4 C", 0, 131, 16), ("org", 47, 136, 11),
    ("(chlorine)", 0, 149, 16),
    ("(%)", 0, 171, 16),
]


def fx(px):
    return px / W


def fy(py):
    return 1 - py / H


def tick_arrays(spec):
    lo, hi, step, labelled, dec = spec
    anchor = labelled[0]
    kmin = int(np.ceil((lo - anchor) / step - 1e-6))
    kmax = int(np.floor((hi - anchor) / step + 1e-6))
    vals, text = [], []
    for k in range(kmin, kmax + 1):
        v = round(anchor + k * step, 6)
        vals.append(v)
        if any(abs(v - l) < step * 1e-3 for l in labelled):
            text.append(f"{v:.{dec}f}")
        else:
            text.append("")
    return vals, text


def axis_style(spec):
    vals, text = tick_arrays(spec)
    return dict(range=[spec[0], spec[1]], tickmode="array", tickvals=vals, ticktext=text, tickangle=0,
                showline=True, linecolor="black", linewidth=1, ticks="outside", ticklen=4,
                tickwidth=1, tickcolor="black", showgrid=False, zeroline=False, mirror=False,
                tickfont=dict(family=FONT, size=12, color="black"), fixedrange=True)


def text_note(text, px, py, size, anchor="center"):
    return dict(text=text, x=fx(px), y=fy(py), xref="paper", yref="paper", showarrow=False,
                xanchor=anchor, yanchor="middle", borderpad=0, borderwidth=0,
                font=dict(family=FONT, size=size, color="black"))


fig = go.Figure()
layout = {}
annotations = []

panel = 0
for r, n in enumerate(ROW_SIZES):
    y0 = ROW_Y[r]
    for c in range(n):
        (title, age, d18o, d18o_fit, d18o_err, depth, corg, corg_fit, corg_err,
         age_ax, d18o_ax, depth_ax, corg_ax) = PANELS[panel]
        it = 2 * panel + 1
        ib = 2 * panel + 2
        x0 = COL_X[c]
        dom_x = [fx(x0), fx(x0 + PW)]

        xt = axis_style(age_ax)
        xt.update(domain=dom_x, anchor=f"y{it}", side="top")
        yt = axis_style(d18o_ax)
        yt.update(domain=[fy(y0 + 99), fy(y0 + 34)], anchor=f"x{it}")
        xb = axis_style(depth_ax)
        xb.update(domain=dom_x, anchor=f"y{ib}", side="bottom")
        yb = axis_style(corg_ax)
        yb.update(domain=[fy(y0 + 191), fy(y0 + 127)], anchor=f"x{ib}")
        layout[f"xaxis{it}"] = xt
        layout[f"yaxis{it}"] = yt
        layout[f"xaxis{ib}"] = xb
        layout[f"yaxis{ib}"] = yb

        # NGRIP d18O
        ages = np.linspace(age[0], age[1], len(d18o))
        fig.add_trace(go.Scatter(x=ages, y=d18o, mode="lines+markers",
                                 line=dict(color="black", width=1), marker=dict(color="black", size=4),
                                 xaxis=f"x{it}", yaxis=f"y{it}", showlegend=False, hoverinfo="skip"))
        fig.add_trace(go.Scatter(x=d18o_fit[0], y=d18o_fit[1], mode="lines",
                                 line=dict(color="#ff1010", width=1.6),
                                 xaxis=f"x{it}", yaxis=f"y{it}", showlegend=False, hoverinfo="skip"))
        fig.add_trace(go.Scatter(x=[d18o_err[0]], y=[d18o_err[2]], mode="markers",
                                 marker=dict(color="#ff1010", size=4),
                                 error_x=dict(type="data", array=[d18o_err[1]], color="#ff1010",
                                              thickness=1.5, width=2),
                                 xaxis=f"x{it}", yaxis=f"y{it}", showlegend=False, hoverinfo="skip"))

        # AU4 Corg (segments joined by a line, as scanned)
        dx, cy = [], []
        for (d_start, d_end), seg in zip(depth, corg):
            dx.extend(np.linspace(d_start, d_end, len(seg)))
            cy.extend(seg)
        fig.add_trace(go.Scatter(x=dx, y=cy, mode="lines+markers",
                                 line=dict(color="black", width=1), marker=dict(color="black", size=4),
                                 xaxis=f"x{ib}", yaxis=f"y{ib}", showlegend=False, hoverinfo="skip"))
        fig.add_trace(go.Scatter(x=corg_fit[0], y=corg_fit[1], mode="lines",
                                 line=dict(color="#ff1010", width=1.6),
                                 xaxis=f"x{ib}", yaxis=f"y{ib}", showlegend=False, hoverinfo="skip"))
        fig.add_trace(go.Scatter(x=[corg_err[0]], y=[corg_err[2]], mode="markers",
                                 marker=dict(color="#ff1010", size=4),
                                 error_x=dict(type="data", array=[corg_err[1]], color="#ff1010",
                                              thickness=1.5, width=2),
                                 xaxis=f"x{ib}", yaxis=f"y{ib}", showlegend=False, hoverinfo="skip"))

        annotations.append(text_note("Age (yr b2k)", x0 + PW / 2, y0, 16))
        if isinstance(title, str):
            annotations.append(text_note(title, x0 + PW / 2 + 4, y0 + 113, 16 if r < 5 else 12.5))
        else:
            for txt, ddx, ddy, size in title:
                annotations.append(text_note(txt, x0 + ddx, y0 + 113 + ddy, size, anchor="left"))
        annotations.append(text_note("Depth (m)", x0 + PW / 2, y0 + 224, 12.5))
        panel += 1

    # row labels on the left
    for txt, ddx, ddy, size in ROW_LABELS:
        annotations.append(text_note(txt, 12 + ddx, y0 + ddy, size, anchor="left"))

fig.update_layout(**layout)
fig.update_layout(width=W, height=H, margin=dict(l=0, r=0, t=0, b=0), autosize=False,
                  paper_bgcolor="white", plot_bgcolor="white",
                  annotations=annotations, showlegend=False,
                  font=dict(family=FONT, color="black"))

# the page holds nothing but the figure: no body margin, no scrollbars
fig.write_html("out.html", config=dict(responsive=False),
               post_script="document.body.style.margin='0';document.body.style.padding='0';"
                           "document.documentElement.style.overflow='hidden';")
